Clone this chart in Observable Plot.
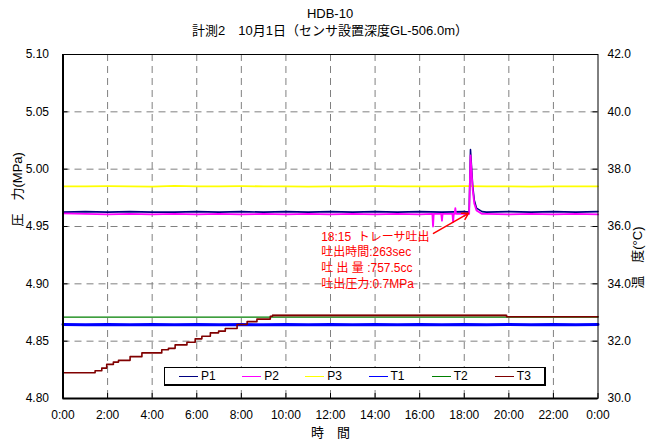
<!DOCTYPE html>
<html>
<head>
<meta charset="utf-8">
<script src="https://cdn.jsdelivr.net/npm/d3@7"></script>
<script src="https://cdn.jsdelivr.net/npm/@observablehq/plot@0.6"></script>
<style>
  html, body { margin: 0; padding: 0; background: white; }
  body { font-family: "Liberation Sans", Arial, "Noto Sans CJK JP", sans-serif; }
  #wrap { position: relative; width: 653px; height: 441px; }
  #title { height: 40px; box-sizing: border-box; padding-top: 5px; padding-left: 7px; text-align: center; font-size: 13px; line-height: 17px; color: #000; }
  #legend { position: absolute; left: 164px; top: 367px; width: 382px; height: 19px; box-sizing: border-box;
            border-top: 1px solid #000; border-left: 1px solid #000; border-right: 2px solid #000; border-bottom: 2px solid #000;
            background: white; display: flex; align-items: center; font-size: 12px; }
  .item { width: 63.5px; display: flex; align-items: center; padding-left: 14px; box-sizing: border-box; }
  .sw { width: 19px; height: 0; border-top: 1.5px solid; margin-right: 3px; }
</style>
</head>
<body>
<div id="wrap">
  <div id="title"></div>
  <div id="chart"></div>
  <div id="legend"></div>
</div>
<script>
// ---- text ----
const titleLines = ["HDB-10", "計測2　10月1日（センサ設置深度GL-506.0m）"];
const yLabelLeft = "圧　力(MPa)";
const yLabelRight = "温　度(°C)";
const xLabel = "時　間";
const noteLines = ["18:15  トレーサ吐出", "吐出時間:263sec", "吐 出 量 :757.5cc", "吐出圧力:0.7MPa"];

// ---- ticks ----
const hourTicks = [0, 2, 4, 6, 8, 10, 12, 14, 16, 18, 20, 22, 24];
const pressureTicks = [4.80, 4.85, 4.90, 4.95, 5.00, 5.05, 5.10];
const tempTicks = [30, 32, 34, 36, 38, 40, 42];

// ---- series ----
const seriesNames = ["P1", "P2", "P3", "T1", "T2", "T3"];
const seriesColors = ["#000080", "#ff00ff", "#ffff00", "#0000ff", "#008000", "#800000"];

const baseHours = [0,1,2,3,4,5,6,7,8,9,10,11,12,13,14,15,16,17,18,19,20,21,22,23,24];

const p1Hours  = [0,1,2,3,4,5,6,7,8,9,10,11,12,13,14,15,16,17,18,18.22,18.28,18.32,18.38,18.45,18.55,18.8,19,20,21,22,23,24];
const p1Values = [4.9625,4.963,4.9625,4.963,4.9625,4.9625,4.963,4.9625,4.963,4.9625,4.963,4.9625,4.963,4.9625,4.963,4.9625,4.963,4.9625,4.963,4.9625,5.017,5.004,4.985,4.973,4.966,4.963,4.9625,4.963,4.9625,4.963,4.9625,4.963];

const p2Hours  = [0,1,2,3,4,5,6,7,8,9,10,11,12,13,14,15,16,16.57,16.6,16.63,16.97,17.0,17.03,17.47,17.5,17.53,17.57,17.6,17.63,18,18.22,18.28,18.32,18.38,18.45,18.55,18.8,19,20,21,22,23,24];
const p2Values = [4.9615,4.961,4.9605,4.961,4.9605,4.961,4.9605,4.961,4.9605,4.961,4.9605,4.961,4.9605,4.961,4.9605,4.961,4.9605,4.961,4.950,4.961,4.961,4.955,4.961,4.961,4.954,4.961,4.961,4.966,4.961,4.961,4.961,5.012,5.000,4.982,4.970,4.964,4.961,4.961,4.9605,4.961,4.9605,4.961,4.9605];

const p3Values = [4.985,4.985,4.9852,4.985,4.9848,4.9855,4.985,4.985,4.9852,4.985,4.985,4.9848,4.985,4.985,4.9852,4.985,4.985,4.985,4.9852,4.985,4.985,4.9848,4.985,4.985,4.985];

// temperatures (°C)
const t1Values = [32.58,32.57,32.58,32.57,32.58,32.57,32.58,32.57,32.58,32.57,32.58,32.57,32.58,32.57,32.58,32.57,32.58,32.57,32.58,32.57,32.58,32.57,32.58,32.57,32.58];
const t2Values = [32.84,32.84,32.84,32.84,32.84,32.84,32.84,32.84,32.84,32.84,32.84,32.84,32.84,32.84,32.84,32.84,32.84,32.84,32.84,32.84,32.84,32.84,32.84,32.84,32.84];
const t3Hours  = [0,1.44,1.74,1.96,2.26,2.49,3.01,3.54,4.43,4.73,5.03,5.56,5.93,6.23,6.61,6.98,7.28,7.81,8.26,8.70,9.30,9.40,19.90,24];
const t3Values = [30.90,30.97,31.06,31.19,31.27,31.33,31.46,31.59,31.70,31.75,31.87,31.96,32.08,32.17,32.29,32.35,32.44,32.58,32.68,32.77,32.87,32.90,32.85,32.85];
// T3 flickers between two readings on its plateau (seen as a pale band)
const t3BandHours = [9.40, 19.90];
const t3BandLow = [32.84, 32.84];
const t3BandHigh = [32.92, 32.92];

// annotation anchor (hours, MPa)
const noteAt = {x: 11.58, y: 4.9215};
const arrowFrom = {x: 16.62, y: 4.944};
const arrowTo = {x: 18.19, y: 4.9615};

// ---- helpers ----
const yMin = 4.80, yMax = 5.10, tMin = 30, tMax = 42;
const toP = t => yMin + (t - tMin) * (yMax - yMin) / (tMax - tMin);
const zip = (xs, ys, name) => xs.map((x, i) => ({x, y: ys[i], name}));

const pData = {
  P1: zip(p1Hours, p1Values, "P1"),
  P2: zip(p2Hours, p2Values, "P2"),
  P3: zip(baseHours, p3Values, "P3"),
  T1: zip(baseHours, t1Values.map(toP), "T1"),
  T2: zip(baseHours, t2Values.map(toP), "T2"),
  T3: zip(t3Hours, t3Values.map(toP), "T3")
};
const t3Band = t3BandHours.map((x, i) => ({x, y1: toP(t3BandLow[i]), y2: toP(t3BandHigh[i])}));
const color = Object.fromEntries(seriesNames.map((n, i) => [n, seriesColors[i]]));

const W = 653, H = 401, mL = 62.5, mR = 55.5, mT = 14, mB = 43;
const pxPerHour = (W - mL - mR) / 24;
const pxPerMPa = (H - mT - mB) / (yMax - yMin);
const tick = 5;
const tickH = tick / pxPerHour, tickV = tick / pxPerMPa;
const innerP = pressureTicks.slice(1, -1);
const innerH = hourTicks.slice(1, -1);

document.getElementById("title").innerHTML = titleLines.map(s => `<div>${s}</div>`).join("");

const chart = Plot.plot({
  width: W, height: H,
  marginLeft: mL, marginRight: mR, marginTop: mT, marginBottom: mB,
  style: {fontFamily: '"Liberation Sans", Arial, "Noto Sans CJK JP", sans-serif', fontSize: "12px", color: "#000", background: "white"},
  x: {domain: [0, 24], ticks: hourTicks, tickFormat: h => `${h % 24}:00`, tickSize: 0, tickPadding: 12, label: null},
  y: {domain: [yMin, yMax], ticks: pressureTicks, tickFormat: d3.format(".2f"), tickSize: 0, tickPadding: 14, label: null},
  marks: [
    // grid
    Plot.ruleY(innerP, {stroke: "#808080", strokeDasharray: "7,5", strokeWidth: 1}),
    Plot.ruleX(innerH, {stroke: "#808080", strokeDasharray: "7,5", strokeWidth: 1}),
    // series
    Plot.line(pData.P3, {x: "x", y: "y", stroke: color.P3, strokeWidth: 1.8}),
    Plot.line(pData.T1, {x: "x", y: "y", stroke: color.T1, strokeWidth: 3}),
    Plot.line(pData.T2, {x: "x", y: "y", stroke: color.T2, strokeWidth: 1.2}),
    Plot.areaY(t3Band, {x: "x", y1: "y1", y2: "y2", fill: color.T3, fillOpacity: 0.3}),
    Plot.line(pData.T3, {x: "x", y: "y", stroke: color.T3, strokeWidth: 1.6, curve: "step-after"}),
    Plot.line(pData.P1, {x: "x", y: "y", stroke: color.P1, strokeWidth: 1.6}),
    Plot.line(pData.P2, {x: "x", y: "y", stroke: color.P2, strokeWidth: 1.8}),
    // frame & axes lines
    Plot.frame({stroke: "#000", strokeWidth: 1}),
    Plot.ruleX([0], {stroke: "#000", strokeWidth: 2}),
    Plot.ruleY([yMin], {stroke: "#000", strokeWidth: 2}),
    // inward tick marks
    Plot.ruleY(pressureTicks, {x1: 0, x2: tickH, stroke: "#000"}),
    Plot.ruleY(tempTicks.map(toP), {x1: 24 - tickH, x2: 24, stroke: "#000"}),
    Plot.ruleX(hourTicks, {y1: yMin, y2: yMin + tickV, stroke: "#000"}),
    // right axis labels
    Plot.text(tempTicks, {y: t => toP(t), frameAnchor: "right", dx: 9.5, textAnchor: "start", text: d3.format(".1f"), fontSize: 12}),
    // axis titles
    Plot.text([yLabelLeft], {frameAnchor: "left", dx: -45, rotate: -90, fontSize: 13}),
    Plot.text([yLabelRight], {frameAnchor: "right", dx: 40, rotate: -90, fontSize: 13}),
    Plot.text([xLabel], {frameAnchor: "bottom", dy: 38, fontSize: 13}),
    // annotation
    Plot.arrow([0], {x1: arrowFrom.x, y1: arrowFrom.y, x2: arrowTo.x, y2: arrowTo.y, stroke: "#ff0000", strokeWidth: 1.5, headLength: 7}),
    Plot.text([noteLines.join("\n")], {x: noteAt.x, y: noteAt.y, textAnchor: "start", lineAnchor: "middle", lineHeight: 1.3, fill: "#ff0000", fontSize: 12})
  ]
});
document.getElementById("chart").appendChild(chart);

document.getElementById("legend").innerHTML = seriesNames.map((n, i) =>
  `<div class="item"><span class="sw" style="border-color:${seriesColors[i]}"></span><span>${n}</span></div>`).join("");
</script>
</body>
</html>
